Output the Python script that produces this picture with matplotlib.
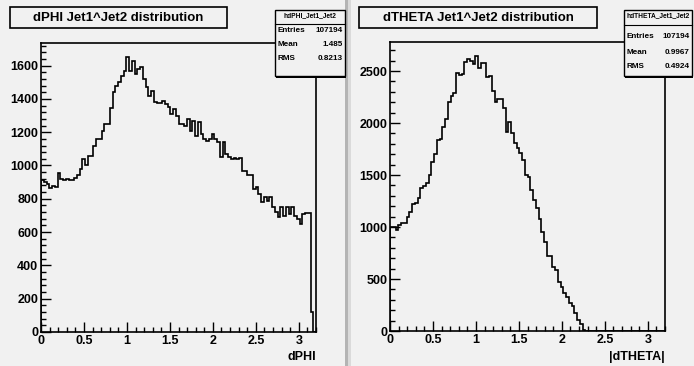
import matplotlib
matplotlib.use('Agg')
import matplotlib.pyplot as plt
from matplotlib.patches import Rectangle
from matplotlib.ticker import MultipleLocator
import numpy as np

plt.rcParams['font.family'] = ['Liberation Sans', 'DejaVu Sans']
plt.rcParams['font.weight'] = 'bold'

# 100 bins from 0 to 3.2
edges = np.linspace(0, 3.2, 101)

dphi_counts = [
    910, 900, 890, 862, 878, 870, 955, 918, 910, 918,
    915, 915, 927, 945, 981, 1039, 1000, 1059, 1059, 1119,
    1161, 1161, 1209, 1251, 1251, 1347, 1439, 1479, 1503, 1540,
    1569, 1653, 1569, 1625, 1551, 1581, 1589, 1521, 1469, 1419,
    1445, 1379, 1373, 1373, 1389, 1370, 1349, 1311, 1341, 1299,
    1251, 1251, 1239, 1281, 1209, 1269, 1179, 1259, 1191, 1161,
    1149, 1161, 1191, 1161, 1139, 1049, 1139, 1071, 1053, 1041,
    1047, 1041, 1047, 969, 969, 945, 940, 860, 870, 831,
    779, 813, 789, 809, 749, 719, 689, 749, 699, 749,
    709, 749, 699, 681, 651, 709, 712, 712, 120, 0,
]

dtheta_counts = [
    1000, 1000, 975, 1015, 1040, 1040, 1100, 1140, 1220, 1235,
    1275, 1380, 1395, 1420, 1500, 1630, 1700, 1835, 1850, 1965,
    2035, 2205, 2260, 2292, 2478, 2462, 2470, 2590, 2615, 2599,
    2567, 2647, 2526, 2580, 2577, 2439, 2452, 2311, 2205, 2228,
    2228, 2141, 1916, 2012, 1900, 1811, 1757, 1708, 1644, 1500,
    1484, 1356, 1260, 1180, 1074, 955, 859, 721, 721, 618,
    587, 474, 426, 362, 330, 272, 240, 170, 106, 67,
    10, 3,
]
dtheta_counts = dtheta_counts + [0] * (100 - len(dtheta_counts))

titles = ['dPHI Jet1^Jet2 distribution', 'dTHETA Jet1^Jet2 distribution']
xlabels = ['dPHI', '|dTHETA|']
hist_names = ['hdPHI_Jet1_Jet2', 'hdTHETA_Jet1_Jet2']
stat_labels = ['Entries', 'Mean', 'RMS']
stat_values = [['107194', '1.485', '0.8213'], ['107194', '0.9967', '0.4924']]

bg_col = '#f1f1f1'
W, H = 694, 366

fig = plt.figure(figsize=(W / 100, H / 100), dpi=100)
fig.patch.set_facecolor(bg_col)

# overlay in pixel coords for boxes and texts, kept above the plot axes
ov = fig.add_axes([0, 0, 1, 1])
ov.set_xlim(0, W)
ov.set_ylim(H, 0)
ov.axis('off')
ov.set_zorder(10)

# separator between the two pads
ov.add_patch(Rectangle((345.5, 0), 3, H, color='#b4b4b4', lw=0))
ov.add_patch(Rectangle((348.5, 0), 3, H, color='#dadada', lw=0))

pads = [
    dict(ax=[41, 316, 43, 332], tbox=(10, 7, 217, 21), sbox=(275, 10, 70, 66),
         hline=24, rows=[30, 44, 59], head=16),
    dict(ax=[390, 665, 42, 331], tbox=(359, 7, 238, 21), sbox=(624, 10, 68, 66),
         hline=25, rows=[37, 52, 66], head=16),
]
series = [dphi_counts, dtheta_counts]
ymaxes = [1.05 * max(dphi_counts), 1.05 * max(dtheta_counts)]
majors = [200, 500]
minors = [40, 100]

for i, p in enumerate(pads):
    x0, x1, y0, y1 = p['ax']
    ax = fig.add_axes([x0 / W, (H - y1) / H, (x1 - x0) / W, (y1 - y0) / H])
    ax.set_facecolor(bg_col)
    ax.stairs(series[i], edges, color='black', lw=1.2, baseline=0)
    ax.set_xlim(0, 3.2)
    ax.set_ylim(0, ymaxes[i])
    ax.xaxis.set_minor_locator(MultipleLocator(0.1))
    ax.yaxis.set_major_locator(MultipleLocator(majors[i]))
    ax.yaxis.set_minor_locator(MultipleLocator(minors[i]))
    ax.set_xticks([0, 0.5, 1, 1.5, 2, 2.5, 3])
    ax.set_xticklabels(['0', '0.5', '1', '1.5', '2', '2.5', '3'])
    ax.tick_params(which='major', direction='in', length=7, width=1, labelsize=9, pad=2)
    ax.tick_params(which='minor', direction='in', length=3.5, width=1)
    for s in ax.spines.values():
        s.set_linewidth(1.2)
    ov.text(x1, 357, xlabels[i], ha='right', va='center', fontsize=9)

    # title box
    tx, ty, tw, th = p['tbox']
    ov.add_patch(Rectangle((tx, ty), tw, th, facecolor=bg_col, edgecolor='black', lw=1.2))
    ov.text(tx + tw / 2, ty + th / 2 + 0.5, titles[i], ha='center', va='center', fontsize=9.5)

    # stats box with shadow
    sx, sy, sw, sh = p['sbox']
    ov.add_patch(Rectangle((sx + 1.5, sy + 1.5), sw, sh, facecolor='black', lw=0, zorder=3))
    ov.add_patch(Rectangle((sx, sy), sw, sh, facecolor=bg_col, edgecolor='black', lw=1, zorder=4))
    ov.plot([sx, sx + sw], [p['hline'], p['hline']], color='black', lw=0.8, zorder=5)
    ov.text(sx + sw / 2, p['head'], hist_names[i], ha='center', va='center',
            fontsize=4.8, zorder=6)
    for lab, val, yy in zip(stat_labels, stat_values[i], p['rows']):
        ov.text(sx + 3, yy, lab, ha='left', va='center', fontsize=5.9, zorder=6)
        ov.text(sx + sw - 2, yy, val, ha='right', va='center', fontsize=5.9, zorder=6)

fig.savefig('out.png', dpi=100, facecolor=bg_col)
